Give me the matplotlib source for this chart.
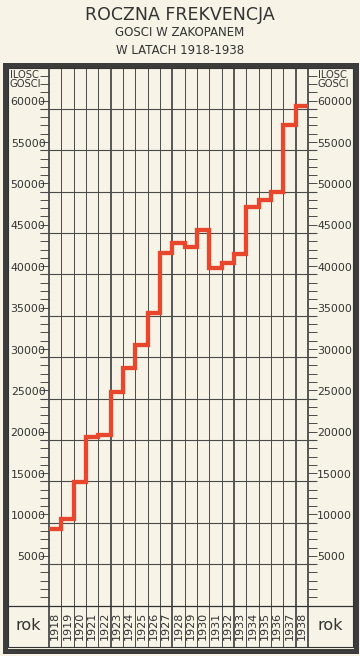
import matplotlib
matplotlib.use("Agg")
import matplotlib.pyplot as plt
from matplotlib.patches import Rectangle
import matplotlib.transforms as mtransforms

# ---- data ----
years = [1918, 1919, 1920, 1921, 1922, 1923, 1924, 1925, 1926, 1927, 1928,
         1929, 1930, 1931, 1932, 1933, 1934, 1935, 1936, 1937, 1938]
guests = [9300, 10500, 14900, 20400, 20600, 25800, 28700, 31500, 35300, 42600,
          43750, 43300, 45400, 40800, 41400, 42500, 48200, 49000, 50000, 58100, 60400]
y_labels = [5000, 10000, 15000, 20000, 25000, 30000, 35000, 40000, 45000,
            50000, 55000, 60000]
title_lines = ["ROCZNA FREKVENCJA", "GOSCI W ZAKOPANEM", "W LATACH 1918-1938"]
axis_title = "ILOSC\nGOSCI"
row_title = "rok"

BG = "#f7f3e6"
INK = "#333333"
GRID = "#4a4a4a"
RED = "#e8472d"

W, H = 360, 656
fig = plt.figure(figsize=(W / 100, H / 100), dpi=100, facecolor=BG)

def fx(px):
    return px / W

def fy(py):
    return 1 - py / H

# ---- outer frame ----
fig.patches.append(Rectangle((fx(4.5), fy(651)), fx(351), (651 - 64.5) / H,
                             transform=fig.transFigure, fill=False,
                             edgecolor="#3c3c3c", linewidth=3.6, zorder=0))
fig.patches.append(Rectangle((fx(8), fy(646.5)), fx(344.5), (646.5 - 67.5) / H,
                             transform=fig.transFigure, fill=False,
                             edgecolor=INK, linewidth=0.8, zorder=0))
# bottom row separator line
fig.add_artist(plt.Line2D([fx(8), fx(352.5)], [fy(605.5), fy(605.5)],
                          transform=fig.transFigure, color=INK, lw=0.9))

# ---- main axes ----
left, right, top, bottom = 49, 308, 67.5, 605.5
ax = fig.add_axes([fx(left), fy(bottom), fx(right - left), (bottom - top) / H])
ax.set_facecolor(BG)
ax.set_xlim(0, len(years))
ax.set_ylim(0, 65000)
for s in ax.spines.values():
    s.set_visible(False)

trans_year = mtransforms.blended_transform_factory(ax.transData, fig.transFigure)
# vertical grid lines (thick every 5 columns), running into the year row
for i in range(len(years) + 1):
    thick = (i % 5 == 0) or i == len(years)
    ax.plot([i, i], [fy(646.5), fy(67.5)], transform=trans_year, color=GRID,
            lw=1.3 if thick else 0.7, clip_on=False, zorder=1)

# horizontal grid lines at labelled values, extended into label columns
x0 = -(left - 40) / ((right - left) / len(years))
x1 = len(years) + (316 - right) / ((right - left) / len(years))
ax.hlines(y_labels, x0, x1, color=GRID, lw=0.8, clip_on=False, zorder=1)

# minor ticks every 1000 on both sides
ax.set_yticks(range(1000, 65000, 1000))
ax.set_yticklabels([])
ax.tick_params(axis="y", which="both", left=True, right=True, direction="out",
               length=6.3, width=0.7, color=GRID, labelleft=False)
ax.set_xticks([])

# step line
xs = list(range(len(years) + 1))
ys = guests + [guests[-1]]
ax.step(xs, ys, where="post", color=RED, lw=3.1, solid_joinstyle="miter",
        solid_capstyle="butt", zorder=3, clip_on=False)

# value labels on both sides
trans_l = mtransforms.blended_transform_factory(fig.transFigure, ax.transData)
for v in y_labels:
    ax.text(fx(45.5), v + 200, f"{v}", transform=trans_l, ha="right", va="bottom",
            fontsize=7.9, color=INK, family="DejaVu Sans")
    ax.text(fx(317), v + 200, f"{v}", transform=trans_l, ha="left", va="bottom",
            fontsize=7.9, color=INK, family="DejaVu Sans")

# axis titles
fig.text(fx(10), fy(79.5), axis_title, ha="left", va="center", fontsize=7.2,
         color=INK, linespacing=0.95)
fig.text(fx(318), fy(79.5), axis_title, ha="left", va="center", fontsize=7.2,
         color=INK, linespacing=0.95)

# year labels
for i, yr in enumerate(years):
    ax.text(i + 0.5, fy(626), str(yr), transform=trans_year, rotation=90,
            ha="center", va="center", fontsize=8, color=INK)

# row titles
fig.text(fx(28.5), fy(625), row_title, ha="center", va="center", fontsize=11.5,
         color=INK)
fig.text(fx(330), fy(625), row_title, ha="center", va="center", fontsize=11.5,
         color=INK)

# titles
fig.text(0.5, fy(14.5), title_lines[0], ha="center", va="center", fontsize=12.5,
         color=INK, family="DejaVu Sans")
fig.text(0.5, fy(32), title_lines[1], ha="center", va="center", fontsize=8.5,
         color=INK)
fig.text(0.5, fy(50.5), title_lines[2], ha="center", va="center", fontsize=8.5,
         color=INK)

fig.savefig("out.png", dpi=100, facecolor=BG)
